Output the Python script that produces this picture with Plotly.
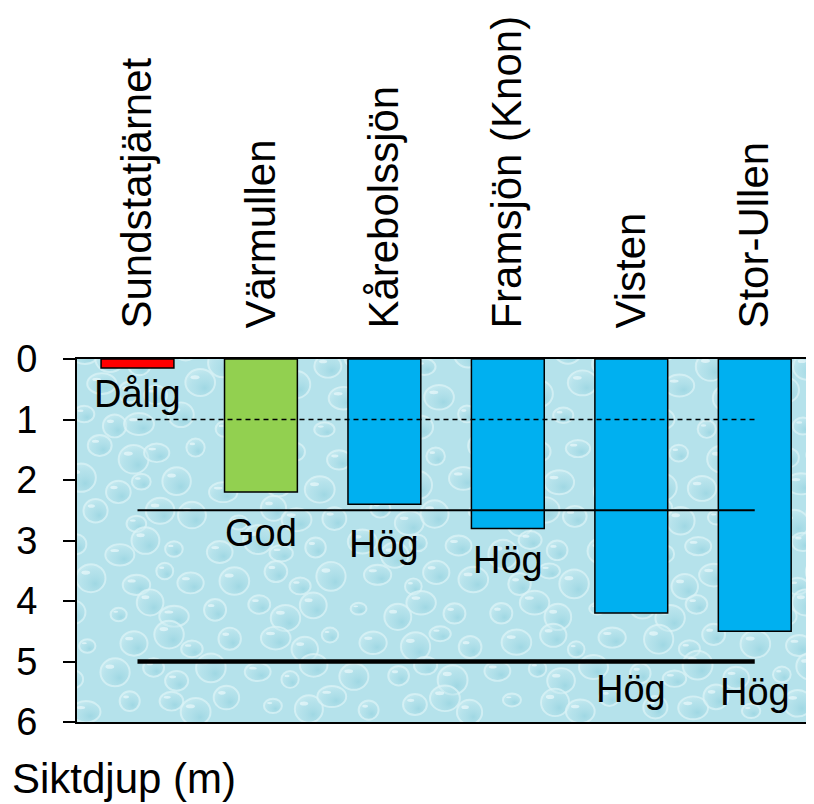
import base64
import math
import plotly.graph_objects as go

# ---- data ----
categories = ["Sundstatjärnet", "Värmullen", "Kårebolssjön", "Framsjön (Knon)", "Visten", "Stor-Ullen"]
depth_m = [0.15, 2.2, 2.4, 2.8, 4.2, 4.5]
status = ["Dålig", "God", "Hög", "Hög", "Hög", "Hög"]
class_limits = [1.0, 2.5, 5.0]
y_ticks = [0, 1, 2, 3, 4, 5, 6]
axis_title = "Siktdjup (m)"

# ---- styling ----
status_colors = {"Dålig": "#FF0000", "God": "#92D050", "Hög": "#00B0F0"}
limit_styles = [dict(width=1.5, dash="5px,4px"), dict(width=2, dash="solid"), dict(width=4.5, dash="solid")]
label_y = [0.58, 2.88, 3.05, 3.33, 5.45, 5.5]
FONT = "Liberation Sans, Arial, sans-serif"


def water_texture_svg(w=740, h=370):
    """Decorative water-drop background (purely cosmetic)."""
    parts = [
        f'<svg xmlns="http://www.w3.org/2000/svg" width="{w}" height="{h}" viewBox="0 0 {w} {h}">',
        '<defs><radialGradient id="d" cx="65%" cy="70%" r="80%">'
        '<stop offset="0" stop-color="#8ECFDD" stop-opacity="0.55"/>'
        '<stop offset="0.55" stop-color="#B3E1EA" stop-opacity="0.35"/>'
        '<stop offset="1" stop-color="#DDF4F7" stop-opacity="0.6"/></radialGradient></defs>',
        f'<rect width="{w}" height="{h}" fill="#B5E2EB"/>',
    ]
    k = 0
    for row in range(12):
        for col in range(22):
            k += 1
            cx = col * 35 + (row % 2) * 17 + 8 * math.sin(k * 1.7)
            cy = row * 32 + 8 * math.cos(k * 2.3)
            rx = 8 + 7 * abs(math.sin(k * 0.9))
            ry = rx * (0.7 + 0.3 * abs(math.cos(k * 1.3)))
            parts.append(
                f'<ellipse cx="{cx:.1f}" cy="{cy:.1f}" rx="{rx:.1f}" ry="{ry:.1f}" '
                f'fill="url(#d)" stroke="#DDF4F7" stroke-width="2" stroke-opacity="0.7"/>'
            )
            parts.append(
                f'<ellipse cx="{cx - rx * 0.35:.1f}" cy="{cy - ry * 0.4:.1f}" rx="{rx * 0.3:.1f}" '
                f'ry="{ry * 0.15:.1f}" fill="#F2FCFD" fill-opacity="0.6"/>'
            )
    parts.append("</svg>")
    return "data:image/svg+xml;base64," + base64.b64encode("".join(parts).encode()).decode()


fig = go.Figure()
fig.add_trace(go.Bar(
    x=categories, y=depth_m, base=0, width=0.59,
    marker=dict(color=[status_colors[s] for s in status], line=dict(color="black", width=1.5)),
    showlegend=False, hoverinfo="skip",
))
for lvl, st in zip(class_limits, limit_styles):
    fig.add_trace(go.Scatter(
        x=[categories[0], categories[-1]], y=[lvl, lvl], mode="lines",
        line=dict(color="black", **st), showlegend=False, hoverinfo="skip",
    ))

for cat, s, ly in zip(categories, status, label_y):
    fig.add_annotation(x=cat, y=ly, text=s, showarrow=False,
                       font=dict(family=FONT, size=38, color="black"),
                       xanchor="center", yanchor="middle")

fig.add_annotation(xref="paper", yref="paper", x=-0.091, y=-0.155, text=axis_title,
                   showarrow=False, xanchor="left", yanchor="middle",
                   font=dict(family=FONT, size=42, color="black"))

fig.add_layout_image(
    source=water_texture_svg(), xref="paper", yref="paper", x=0, y=1,
    sizex=1, sizey=1, sizing="stretch", xanchor="left", yanchor="top",
    layer="below", opacity=1,
)

fig.update_layout(
    width=814, height=804,
    margin=dict(l=69, r=8, t=345, b=90),
    paper_bgcolor="white",
    plot_bgcolor="#B5E2EB",
    font=dict(family=FONT, color="black"),
    xaxis=dict(
        side="top", type="category", range=[-0.49, 5.48],
        tickangle=-90, tickfont=dict(size=42, family=FONT, color="black"),
        ticks="", ticklabelstandoff=20,
        showline=True, linecolor="black", linewidth=2, mirror=True,
        showgrid=False, zeroline=False,
    ),
    yaxis=dict(
        range=[6, 0], tickvals=y_ticks, ticks="outside", ticklen=12, tickwidth=2,
        tickcolor="black", ticklabelstandoff=18,
        tickfont=dict(size=38, family=FONT, color="black"),
        showline=True, linecolor="black", linewidth=2,
        showgrid=False, zeroline=False,
    ),
)

fig.write_html("out.html")
